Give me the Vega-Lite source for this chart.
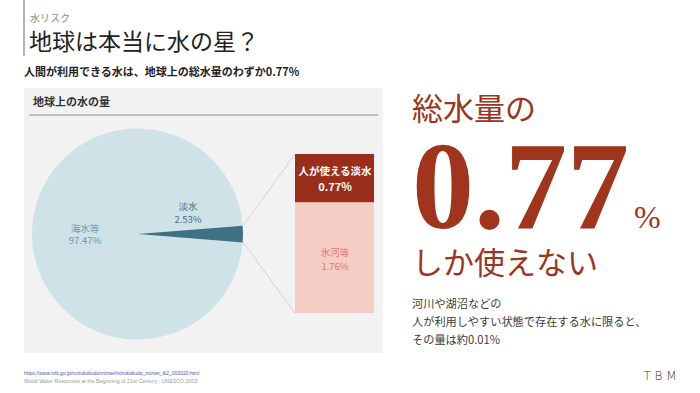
{
  "$schema": "https://vega.github.io/schema/vega-lite/v6.json",
  "width": 700,
  "height": 393,
  "padding": 0,
  "autosize": {"type": "none"},
  "background": "#ffffff",
  "config": {
    "view": {"stroke": null},
    "axis": {"disable": true},
    "legend": {"disable": true},
    "text": {"font": "Noto Sans CJK JP"}
  },
  "datasets": {
    "earth": [
      {"category": "海水等", "share": 97.47},
      {"category": "淡水", "share": 2.53}
    ],
    "fresh": [
      {"category": "人が使える淡水", "share": 0.77},
      {"category": "氷河等", "share": 1.76}
    ],
    "none": [{}]
  },
  "resolve": {"scale": {"y": "independent", "color": "independent"}},
  "layer": [
    {
      "data": {"name": "none"},
      "layer": [
        {
          "mark": {"type": "rect", "fill": "#f2f2f2"},
          "encoding": {
            "x": {"datum": 24, "type": "quantitative", "scale": {"domain": [0, 700], "nice": false, "zero": false}},
            "x2": {"datum": 383},
            "y": {"datum": 88, "type": "quantitative", "scale": {"domain": [0, 393], "reverse": true, "nice": false, "zero": false}},
            "y2": {"datum": 353}
          }
        },
        {
          "mark": {"type": "rule", "color": "#9a9a9a", "strokeWidth": 1.5},
          "encoding": {
            "x": {"datum": 24, "type": "quantitative", "scale": {"domain": [0, 700], "nice": false, "zero": false}},
            "y": {"datum": 0, "type": "quantitative", "scale": {"domain": [0, 393], "reverse": true, "nice": false, "zero": false}},
            "y2": {"datum": 56}
          }
        },
        {
          "mark": {"type": "rule", "color": "#8c8c8c", "strokeWidth": 1},
          "encoding": {
            "x": {"datum": 29, "type": "quantitative", "scale": {"domain": [0, 700], "nice": false, "zero": false}},
            "x2": {"datum": 378},
            "y": {"datum": 115, "type": "quantitative", "scale": {"domain": [0, 393], "reverse": true, "nice": false, "zero": false}}
          }
        },
        {
          "mark": {"type": "rule", "color": "#d2d2d2", "strokeWidth": 1},
          "encoding": {
            "x": {"datum": 243, "type": "quantitative", "scale": {"domain": [0, 700], "nice": false, "zero": false}},
            "x2": {"datum": 295},
            "y": {"datum": 226, "type": "quantitative", "scale": {"domain": [0, 393], "reverse": true, "nice": false, "zero": false}},
            "y2": {"datum": 154}
          }
        },
        {
          "mark": {"type": "rule", "color": "#d2d2d2", "strokeWidth": 1},
          "encoding": {
            "x": {"datum": 243, "type": "quantitative", "scale": {"domain": [0, 700], "nice": false, "zero": false}},
            "x2": {"datum": 295},
            "y": {"datum": 242, "type": "quantitative", "scale": {"domain": [0, 393], "reverse": true, "nice": false, "zero": false}},
            "y2": {"datum": 313}
          }
        },
        {
          "data": {"name": "earth"},
          "mark": {"type": "arc", "radius": 105.5},
          "encoding": {
            "x": {"datum": 137.5, "type": "quantitative", "scale": {"domain": [0, 700], "nice": false, "zero": false}},
            "y": {"datum": 234, "type": "quantitative", "scale": {"domain": [0, 393], "reverse": true, "nice": false, "zero": false}},
            "theta": {"field": "share", "type": "quantitative", "stack": true, "scale": {"range": [-4.6329, 1.6503]}},
            "order": {"field": "category", "sort": "ascending"},
            "color": {"field": "category", "type": "nominal", "scale": {"domain": ["海水等", "淡水"], "range": ["#cfe2e8", "#3e7282"]}}
          }
        },
        {
          "mark": {"type": "text", "fontSize": 9.5, "color": "#6a9cad", "align": "center", "baseline": "middle"},
          "encoding": {
            "x": {"datum": 85, "type": "quantitative", "scale": {"domain": [0, 700], "nice": false, "zero": false}},
            "y": {"datum": 229, "type": "quantitative", "scale": {"domain": [0, 393], "reverse": true, "nice": false, "zero": false}},
            "text": {"value": "海水等"}
          }
        },
        {
          "mark": {"type": "text", "fontSize": 9.5, "color": "#6a9cad", "align": "center", "baseline": "middle"},
          "encoding": {
            "x": {"datum": 85, "type": "quantitative", "scale": {"domain": [0, 700], "nice": false, "zero": false}},
            "y": {"datum": 241, "type": "quantitative", "scale": {"domain": [0, 393], "reverse": true, "nice": false, "zero": false}},
            "text": {"value": "97.47%"}
          }
        },
        {
          "mark": {"type": "text", "fontSize": 9.5, "color": "#3e7282", "align": "center", "baseline": "middle"},
          "encoding": {
            "x": {"datum": 188, "type": "quantitative", "scale": {"domain": [0, 700], "nice": false, "zero": false}},
            "y": {"datum": 207, "type": "quantitative", "scale": {"domain": [0, 393], "reverse": true, "nice": false, "zero": false}},
            "text": {"value": "淡水"}
          }
        },
        {
          "mark": {"type": "text", "fontSize": 9.5, "color": "#3e7282", "align": "center", "baseline": "middle"},
          "encoding": {
            "x": {"datum": 188, "type": "quantitative", "scale": {"domain": [0, 700], "nice": false, "zero": false}},
            "y": {"datum": 220, "type": "quantitative", "scale": {"domain": [0, 393], "reverse": true, "nice": false, "zero": false}},
            "text": {"value": "2.53%"}
          }
        }
      ]
    },
    {
      "data": {"name": "fresh"},
      "transform": [
        {"stack": "share", "groupby": [], "sort": [{"field": "category", "order": "descending"}], "as": ["lo", "hi"]}
      ],
      "mark": {"type": "bar"},
      "encoding": {
        "x": {"datum": 295, "type": "quantitative", "scale": {"domain": [0, 700], "nice": false, "zero": false}},
        "x2": {"datum": 374},
        "y": {"field": "lo", "type": "quantitative", "scale": {"domain": [-1.273, 4.9804], "nice": false, "zero": false}},
        "y2": {"field": "hi"},
        "color": {"field": "category", "type": "nominal", "scale": {"domain": ["人が使える淡水", "氷河等"], "range": ["#9a2e1b", "#f6cdc5"]}}
      }
    },
    {
      "data": {"name": "none"},
      "layer": [
        {
          "mark": {"type": "text", "fontSize": 10, "color": "#8a8a8a", "align": "left", "baseline": "middle"},
          "encoding": {
            "x": {"datum": 30, "type": "quantitative", "scale": {"domain": [0, 700], "nice": false, "zero": false}},
            "y": {"datum": 19, "type": "quantitative", "scale": {"domain": [0, 393], "reverse": true, "nice": false, "zero": false}},
            "text": {"value": "水リスク"}
          }
        },
        {
          "mark": {"type": "text", "fontSize": 23, "color": "#222222", "align": "left", "baseline": "middle"},
          "encoding": {
            "x": {"datum": 29, "type": "quantitative", "scale": {"domain": [0, 700], "nice": false, "zero": false}},
            "y": {"datum": 43, "type": "quantitative", "scale": {"domain": [0, 393], "reverse": true, "nice": false, "zero": false}},
            "text": {"value": "地球は本当に水の星？"}
          }
        },
        {
          "mark": {"type": "text", "fontSize": 11, "fontWeight": "bold", "color": "#222222", "align": "left", "baseline": "middle"},
          "encoding": {
            "x": {"datum": 24, "type": "quantitative", "scale": {"domain": [0, 700], "nice": false, "zero": false}},
            "y": {"datum": 73, "type": "quantitative", "scale": {"domain": [0, 393], "reverse": true, "nice": false, "zero": false}},
            "text": {"value": "人間が利用できる水は、地球上の総水量のわずか0.77%"}
          }
        },
        {
          "mark": {"type": "text", "fontSize": 11, "fontWeight": "bold", "color": "#333333", "align": "left", "baseline": "middle"},
          "encoding": {
            "x": {"datum": 33, "type": "quantitative", "scale": {"domain": [0, 700], "nice": false, "zero": false}},
            "y": {"datum": 103, "type": "quantitative", "scale": {"domain": [0, 393], "reverse": true, "nice": false, "zero": false}},
            "text": {"value": "地球上の水の量"}
          }
        },
        {
          "mark": {"type": "text", "fontSize": 10.5, "fontWeight": "bold", "color": "#ffffff", "align": "center", "baseline": "middle"},
          "encoding": {
            "x": {"datum": 335, "type": "quantitative", "scale": {"domain": [0, 700], "nice": false, "zero": false}},
            "y": {"datum": 172, "type": "quantitative", "scale": {"domain": [0, 393], "reverse": true, "nice": false, "zero": false}},
            "text": {"value": "人が使える淡水"}
          }
        },
        {
          "mark": {"type": "text", "fontSize": 11, "fontWeight": "bold", "color": "#ffffff", "align": "center", "baseline": "middle"},
          "encoding": {
            "x": {"datum": 335, "type": "quantitative", "scale": {"domain": [0, 700], "nice": false, "zero": false}},
            "y": {"datum": 188, "type": "quantitative", "scale": {"domain": [0, 393], "reverse": true, "nice": false, "zero": false}},
            "text": {"value": "0.77%"}
          }
        },
        {
          "mark": {"type": "text", "fontSize": 9.5, "color": "#e07a68", "align": "center", "baseline": "middle"},
          "encoding": {
            "x": {"datum": 335, "type": "quantitative", "scale": {"domain": [0, 700], "nice": false, "zero": false}},
            "y": {"datum": 253, "type": "quantitative", "scale": {"domain": [0, 393], "reverse": true, "nice": false, "zero": false}},
            "text": {"value": "氷河等"}
          }
        },
        {
          "mark": {"type": "text", "fontSize": 9.5, "color": "#e07a68", "align": "center", "baseline": "middle"},
          "encoding": {
            "x": {"datum": 335, "type": "quantitative", "scale": {"domain": [0, 700], "nice": false, "zero": false}},
            "y": {"datum": 267, "type": "quantitative", "scale": {"domain": [0, 393], "reverse": true, "nice": false, "zero": false}},
            "text": {"value": "1.76%"}
          }
        },
        {
          "mark": {"type": "text", "fontSize": 31, "color": "#9b3520", "align": "left", "baseline": "middle"},
          "encoding": {
            "x": {"datum": 412, "type": "quantitative", "scale": {"domain": [0, 700], "nice": false, "zero": false}},
            "y": {"datum": 111, "type": "quantitative", "scale": {"domain": [0, 393], "reverse": true, "nice": false, "zero": false}},
            "text": {"value": "総水量の"}
          }
        },
        {
          "mark": {"type": "text", "font": "Liberation Serif", "fontSize": 124, "fontWeight": "bold", "color": "#a0341c", "align": "left", "baseline": "alphabetic"},
          "encoding": {
            "x": {"datum": 412, "type": "quantitative", "scale": {"domain": [0, 700], "nice": false, "zero": false}},
            "y": {"datum": 228, "type": "quantitative", "scale": {"domain": [0, 393], "reverse": true, "nice": false, "zero": false}},
            "text": {"value": "0.77"}
          }
        },
        {
          "mark": {"type": "text", "font": "Liberation Serif", "fontSize": 32, "color": "#a0341c", "align": "left", "baseline": "alphabetic"},
          "encoding": {
            "x": {"datum": 634, "type": "quantitative", "scale": {"domain": [0, 700], "nice": false, "zero": false}},
            "y": {"datum": 228, "type": "quantitative", "scale": {"domain": [0, 393], "reverse": true, "nice": false, "zero": false}},
            "text": {"value": "%"}
          }
        },
        {
          "mark": {"type": "text", "fontSize": 31, "color": "#9b3520", "align": "left", "baseline": "middle"},
          "encoding": {
            "x": {"datum": 412, "type": "quantitative", "scale": {"domain": [0, 700], "nice": false, "zero": false}},
            "y": {"datum": 265, "type": "quantitative", "scale": {"domain": [0, 393], "reverse": true, "nice": false, "zero": false}},
            "text": {"value": "しか使えない"}
          }
        },
        {
          "mark": {"type": "text", "fontSize": 11.2, "color": "#3a3a3a", "align": "left", "baseline": "middle"},
          "encoding": {
            "x": {"datum": 412, "type": "quantitative", "scale": {"domain": [0, 700], "nice": false, "zero": false}},
            "y": {"datum": 305, "type": "quantitative", "scale": {"domain": [0, 393], "reverse": true, "nice": false, "zero": false}},
            "text": {"value": "河川や湖沼などの"}
          }
        },
        {
          "mark": {"type": "text", "fontSize": 11.2, "color": "#3a3a3a", "align": "left", "baseline": "middle"},
          "encoding": {
            "x": {"datum": 412, "type": "quantitative", "scale": {"domain": [0, 700], "nice": false, "zero": false}},
            "y": {"datum": 323, "type": "quantitative", "scale": {"domain": [0, 393], "reverse": true, "nice": false, "zero": false}},
            "text": {"value": "人が利用しやすい状態で存在する水に限ると、"}
          }
        },
        {
          "mark": {"type": "text", "fontSize": 11.2, "color": "#3a3a3a", "align": "left", "baseline": "middle"},
          "encoding": {
            "x": {"datum": 412, "type": "quantitative", "scale": {"domain": [0, 700], "nice": false, "zero": false}},
            "y": {"datum": 341, "type": "quantitative", "scale": {"domain": [0, 393], "reverse": true, "nice": false, "zero": false}},
            "text": {"value": "その量は約0.01%"}
          }
        },
        {
          "mark": {"type": "text", "font": "Liberation Sans", "fontSize": 5, "color": "#4a5aa8", "align": "left", "baseline": "middle"},
          "encoding": {
            "x": {"datum": 24, "type": "quantitative", "scale": {"domain": [0, 700], "nice": false, "zero": false}},
            "y": {"datum": 373, "type": "quantitative", "scale": {"domain": [0, 393], "reverse": true, "nice": false, "zero": false}},
            "text": {"value": "https://www.mlit.go.jp/mizukokudo/mizsei/mizukokudo_mizsei_tk2_000020.html"}
          }
        },
        {
          "mark": {"type": "text", "font": "Liberation Sans", "fontSize": 5.3, "color": "#999999", "align": "left", "baseline": "middle"},
          "encoding": {
            "x": {"datum": 24, "type": "quantitative", "scale": {"domain": [0, 700], "nice": false, "zero": false}},
            "y": {"datum": 381, "type": "quantitative", "scale": {"domain": [0, 393], "reverse": true, "nice": false, "zero": false}},
            "text": {"value": "World Water Resources at the Beginning of 21st Century ; UNESCO,2003"}
          }
        },
        {
          "mark": {"type": "text", "font": "DejaVu Sans", "fontSize": 12, "fontWeight": 300, "color": "#333333", "align": "center", "baseline": "middle"},
          "encoding": {
            "x": {"datum": 660, "type": "quantitative", "scale": {"domain": [0, 700], "nice": false, "zero": false}},
            "y": {"datum": 376, "type": "quantitative", "scale": {"domain": [0, 393], "reverse": true, "nice": false, "zero": false}},
            "text": {"value": "T B M"}
          }
        }
      ]
    }
  ]
}
